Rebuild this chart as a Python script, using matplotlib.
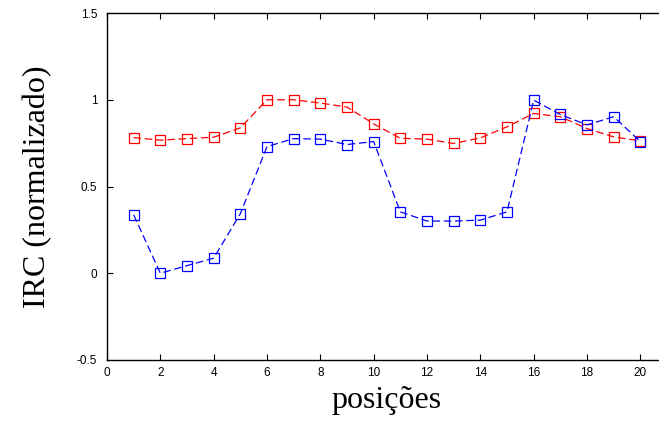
import matplotlib
matplotlib.use("Agg")
import matplotlib.pyplot as plt
import numpy as np

posicoes = np.arange(1, 21)
irc_vermelho = [0.782, 0.767, 0.776, 0.784, 0.838, 1.0, 1.0, 0.981, 0.958, 0.861,
                0.778, 0.773, 0.748, 0.780, 0.844, 0.921, 0.902, 0.834, 0.786, 0.763]
irc_azul = [0.337, 0.0, 0.044, 0.087, 0.343, 0.730, 0.776, 0.773, 0.742, 0.759,
            0.354, 0.301, 0.301, 0.306, 0.354, 0.998, 0.915, 0.855, 0.902, 0.759]

fig = plt.figure(figsize=(6.59, 4.21), dpi=100)
# axes goes past the right edge, like the cropped original
ax = fig.add_axes([107 / 659, 1 - 360 / 421, 560 / 659, 347 / 421])

ax.plot(posicoes, irc_vermelho, color="#ff0000", linestyle=(0, (6, 3)), linewidth=0.9,
        marker="s", markersize=7, markerfacecolor="none", markeredgewidth=0.9)
ax.plot(posicoes, irc_azul, color="#0000ff", linestyle=(0, (6, 3)), linewidth=0.9,
        marker="s", markersize=7, markerfacecolor="none", markeredgewidth=0.9)

ax.set_xlim(0, 21)
ax.set_ylim(-0.5, 1.5)
ax.set_xticks(np.arange(0, 21, 2))
ax.set_yticks([-0.5, 0, 0.5, 1, 1.5])
ax.set_yticklabels(["-0.5", "0", "0.5", "1", "1.5"])
ax.tick_params(direction="in", top=True, right=False, length=4, width=0.8,
               labelsize=8.5)
ax.tick_params(axis="x", pad=5)
ax.tick_params(axis="y", pad=7)
for lab in ax.get_xticklabels() + ax.get_yticklabels():
    lab.set_family("Liberation Sans")
for s in ax.spines.values():
    s.set_linewidth(1.0)
ax.spines["right"].set_visible(False)

ax.set_xlabel("posições", family="Liberation Serif", fontsize=23, labelpad=5)
ax.set_ylabel("IRC (normalizado)", family="Liberation Serif", fontsize=23, labelpad=18)

fig.savefig("out.png", dpi=100)
